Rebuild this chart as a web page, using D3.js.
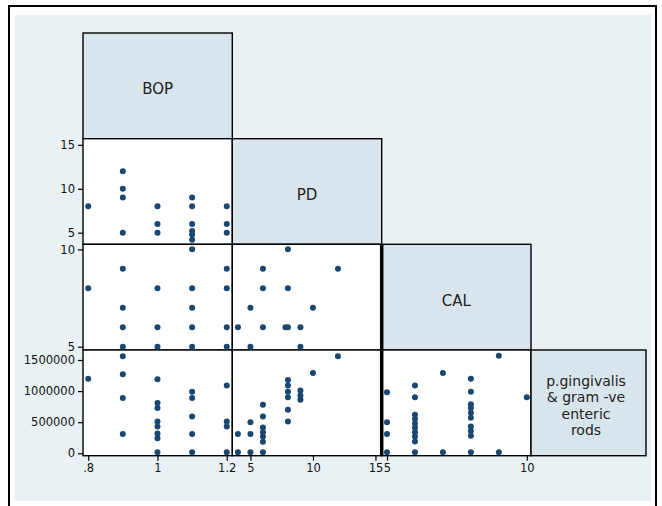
<!DOCTYPE html>
<html><head><meta charset="utf-8">
<script src="https://cdn.jsdelivr.net/npm/d3@7/dist/d3.min.js"></script>
<style>body{margin:0;background:#fff}svg{display:block}</style>
</head><body>
<svg id="chart" width="662" height="506"></svg>
<script>
// ---- data ----
const variables = ["BOP", "PD", "CAL", "p.gingivalis & gram -ve enteric rods"];
const diagLabelLines = [["BOP"], ["PD"], ["CAL"], ["p.gingivalis", "& gram -ve", "enteric", "rods"]];

// [BOP, PD]
const pdVsBop = [[0.8,8],[0.9,12],[0.9,10],[0.9,9],[0.9,5],[1.0,8],[1.0,6],[1.0,5],
  [1.1,9],[1.1,8],[1.1,6],[1.1,5.2],[1.1,4.8],[1.1,4.2],[1.2,8],[1.2,6],[1.2,5]];
// [BOP, CAL]
const calVsBop = [[0.8,8],[0.9,9],[0.9,7],[0.9,6],[0.9,5],[1.0,8],[1.0,6],[1.0,5],
  [1.1,10],[1.1,8],[1.1,7],[1.1,6],[1.1,5],[1.2,9],[1.2,8],[1.2,6],[1.2,5]];
// [BOP, p.gingivalis]
const pgVsBop = [[0.8,1200000],[0.9,1560000],[0.9,1270000],[0.9,890000],[0.9,310000],
  [1.0,1190000],[1.0,810000],[1.0,730000],[1.0,510000],[1.0,430000],[1.0,320000],[1.0,240000],[1.0,15000],
  [1.1,990000],[1.1,890000],[1.1,590000],[1.1,310000],[1.1,15000],
  [1.2,1090000],[1.2,510000],[1.2,430000],[1.2,15000]];
// [PD, CAL]
const calVsPd = [[8,10],[6,9],[12,9],[6,8],[8,8],[5,7],[10,7],[4,6],[6,6],[7.8,6],[8,6],[9,6],[5,5],[9,5]];
// [PD, p.gingivalis]
const pgVsPd = [[12,1560000],[10,1290000],[8,1180000],[8,1090000],[8,990000],[8,900000],[8,700000],[8,510000],
  [9,1010000],[9,930000],[9,860000],[6,780000],[6,590000],[6,413000],[6,340000],[6,268000],[6,187000],[6,15000],
  [5,500000],[5,310000],[5,15000],[4,310000],[4,15000]];
// [CAL, p.gingivalis]
const pgVsCal = [[5,980000],[5,500000],[5,310000],[5,15000],
  [6,1090000],[6,900000],[6,620000],[6,550000],[6,480000],[6,410000],[6,340000],[6,270000],[6,190000],[6,15000],
  [7,1290000],[7,15000],
  [8,1200000],[8,990000],[8,790000],[8,730000],[8,650000],[8,570000],[8,430000],[8,360000],[8,280000],[8,15000],
  [9,1570000],[9,15000],[10,900000]];

const bopTicks = [0.8, 1, 1.2], bopTickLabels = [".8", "1", "1.2"];
const pdTicks = [5, 10, 15];
const calTicks = [5, 10];
const pgTicks = [0, 500000, 1000000, 1500000];

// ---- layout ----
const svg = d3.select("#chart");
const colEdges = [83, 232.3, 381.7, 531, 646];
const rowEdges = [33, 138.7, 244.3, 350, 455.7];
const ink = "#111";
const markColor = "#1a476f";
const font = "DejaVu Sans, Verdana, sans-serif";

svg.append("rect").attr("x", 9).attr("y", 6).attr("width", 647).attr("height", 510)
  .attr("fill", "#fff").attr("stroke", "#000").attr("stroke-width", 2);
svg.append("rect").attr("x", 15).attr("y", 15).attr("width", 636).attr("height", 486)
  .attr("fill", "#eaf1f4");

const x = [
  d3.scaleLinear().domain([0.785, 1.216]).range([colEdges[0], colEdges[1]]),
  d3.scaleLinear().domain([3.55, 15.5]).range([colEdges[1], colEdges[2]]),
  d3.scaleLinear().domain([4.81, 10.15]).range([colEdges[2], colEdges[3]])
];
const y = [
  null,
  d3.scaleLinear().domain([3.68, 15.7]).range([rowEdges[2], rowEdges[1]]),
  d3.scaleLinear().domain([4.83, 10.26]).range([rowEdges[3], rowEdges[2]]),
  d3.scaleLinear().domain([-39000, 1661000]).range([rowEdges[4], rowEdges[3]])
];

// cells
for (let r = 0; r < 4; r++) {
  for (let c = 0; c <= r; c++) {
    const diag = r === c;
    svg.append("rect")
      .attr("x", colEdges[c]).attr("y", rowEdges[r])
      .attr("width", colEdges[c + 1] - colEdges[c]).attr("height", rowEdges[r + 1] - rowEdges[r])
      .attr("fill", diag ? "#d9e5ec" : "#fff")
      .attr("stroke", "#000").attr("stroke-width", 1.4);
  }
}
// heavier seam between columns 2 and 3 in lower rows
svg.append("line").attr("x1", colEdges[2]).attr("x2", colEdges[2])
  .attr("y1", rowEdges[2]).attr("y2", rowEdges[4]).attr("stroke", "#000").attr("stroke-width", 3.5);

// diagonal labels
diagLabelLines.forEach((lines, i) => {
  const cx = i === 3 ? 586 : (colEdges[i] + colEdges[i + 1]) / 2;
  const cy = (rowEdges[i] + rowEdges[i + 1]) / 2 + 3;
  const fs = i === 3 ? 14 : 15;
  const lh = 16.3;
  const t = svg.append("text").attr("text-anchor", "middle")
    .attr("font-family", font).attr("font-size", fs).attr("fill", "#222");
  lines.forEach((ln, k) => {
    const off = (k - (lines.length - 1) / 2) * lh;
    t.append("tspan").attr("x", cx).attr("y", cy + off + (i === 3 ? 4.5 : 5.5)).text(ln);
  });
});

// scatter panels
const panels = [
  { r: 1, c: 0, data: pdVsBop },
  { r: 2, c: 0, data: calVsBop },
  { r: 3, c: 0, data: pgVsBop },
  { r: 2, c: 1, data: calVsPd },
  { r: 3, c: 1, data: pgVsPd },
  { r: 3, c: 2, data: pgVsCal }
];
panels.forEach(p => {
  svg.append("g").selectAll("circle").data(p.data).join("circle")
    .attr("cx", d => x[p.c](d[0])).attr("cy", d => y[p.r](d[1]))
    .attr("r", 3).attr("fill", markColor);
});

// axes
function styleAxis(g) {
  g.select(".domain").remove();
  g.selectAll(".tick line").attr("stroke", "#000").attr("stroke-width", 1.2);
  g.selectAll(".tick text").attr("font-family", font).attr("font-size", 11.5).attr("fill", ink);
}
const yTicks = [null, [pdTicks, d => d], [calTicks, d => d], [pgTicks, d => String(d)]];
for (let r = 1; r <= 3; r++) {
  svg.append("g").attr("transform", `translate(${colEdges[0]},0)`)
    .call(d3.axisLeft(y[r]).tickValues(yTicks[r][0]).tickFormat(yTicks[r][1]).tickSize(5).tickPadding(3))
    .call(styleAxis);
}
const xTicks = [[bopTicks, (d, i) => bopTickLabels[i]], [pdTicks, d => d], [calTicks, d => d]];
for (let c = 0; c < 3; c++) {
  svg.append("g").attr("transform", `translate(0,${rowEdges[4]})`)
    .call(d3.axisBottom(x[c]).tickValues(xTicks[c][0]).tickFormat(xTicks[c][1]).tickSize(5).tickPadding(3))
    .call(styleAxis);
}
</script>
</body></html>
